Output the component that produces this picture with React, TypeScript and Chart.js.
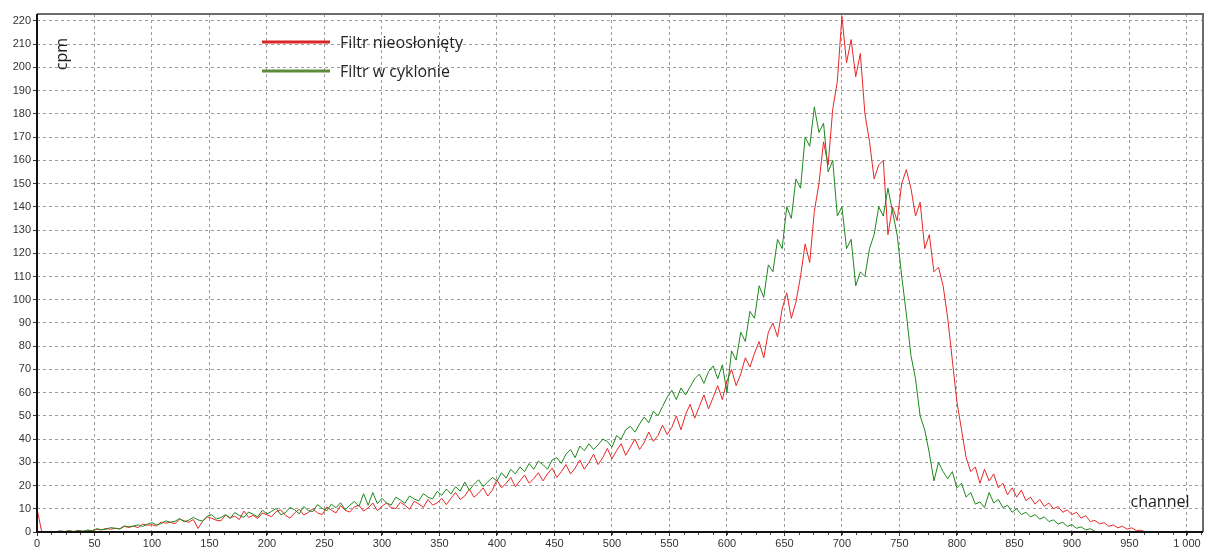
import React, { useEffect, useRef } from 'react';
import { Chart, registerables } from 'chart.js';

Chart.register(...registerables);

// Spectrum samples, one value every STEP channels starting at channel 0
const STEP = 4;

const seriesNames = ['Filtr nieosłonięty', 'Filtr w cyklonie'];
const xAxisTitle = 'channel';
const yAxisTitle = 'cpm';

const xRange = [0, 1014];
const yRange = [0, 223];
const xTickStep = 50;
const yTickStep = 10;

// Filtr nieosłonięty (cpm per channel), channels 0..964
const redCounts = [
  10, 0.3, 0, 0.2, 0, 0.4, 0.2, 0.5, 0.2, 0.6,
  0.3, 0.7, 0.5, 1.2, 0.9, 1.5, 1.2, 1.6, 1.3, 2.4,
  2, 2.5, 1.9, 3.4, 2.9, 3.1, 2.6, 4.3, 3.8, 4.2,
  3.6, 5.5, 4.8, 4.2, 5.4, 1.5, 4.6, 6.5, 5.9, 5,
  4.8, 7.3, 6.2, 6.8, 5.4, 9, 6.3, 7.1, 5.8, 8.2,
  7.4, 6.6, 8.8, 9.5, 7.2, 6, 8.2, 9.8, 7.3, 8.4,
  10, 8.2, 7.5, 10.8, 9.4, 8.2, 11.4, 9.3, 8.6, 10.8,
  11.5, 9, 10.4, 12.5, 9.2, 11, 12.6, 10.4, 10.1, 12.8,
  11.5, 9.8, 13.2, 12.1, 10.6, 14, 11.6, 12.5, 14.5, 11.8,
  14.5, 17, 14, 15.5, 18.5, 15, 16.7, 19, 15.5, 18,
  22.5, 19, 21, 23.5, 19.5, 22, 24.5, 21, 23, 25.5,
  22, 25, 27.5, 23.5, 26, 29, 25, 27.5, 31, 27,
  30, 33.5, 29, 32, 36, 31.5, 35, 38, 33, 36.5,
  40, 35.5, 38.5, 43, 39, 41.5, 46, 42, 45, 50,
  44, 50.5, 55, 49, 54, 59, 53, 58, 63, 57,
  65, 70, 63, 68, 75, 71, 77, 82, 75, 86,
  90, 84, 96, 103, 92, 99, 110, 124, 116, 138,
  150, 168, 158, 182, 194, 222, 202, 212, 196, 206,
  180, 168, 152, 158, 160, 128, 140, 134, 150, 156,
  148, 136, 142, 122, 128, 112, 114, 106, 92, 74,
  56, 44, 32, 26, 28, 21, 27, 22, 25, 19,
  21, 16, 19, 15, 18, 13.5, 15, 12, 14, 11,
  12.5, 10, 11, 8.5, 9.5, 7.5, 8.5, 6, 7, 4.5,
  5, 3.5, 4, 2.5, 3, 1.8, 2.5, 1.2, 1.8, 0.6,
  0.8, 0,
];

// Filtr w cyklonie (cpm per channel), channels 0..924
const greenCounts = [
  0, 0.2, 0, 0.3, 0.1, 0.4, 0.2, 0.5, 0.2, 0.6,
  0.3, 0.8, 0.6, 1.4, 1, 1.2, 1.9, 1.6, 1.4, 2.6,
  2.2, 2.6, 3.1, 2.4, 3.4, 4, 3.1, 3.6, 4.8, 4.2,
  4.6, 5.8, 4.4, 5.1, 6.3, 5.2, 4.7, 6.8, 7.4, 5.6,
  6.2, 7.5, 5.8, 8.4, 7.1, 6.3, 8.6, 7.6, 6.5, 9.4,
  7.8, 8.9, 10.2, 7.4, 8.3, 10.6, 9.6, 7.8, 11, 9.2,
  8.8, 11.8, 10.2, 9.1, 12, 10.4, 12.6, 9.6, 11.5, 13.2,
  11, 16.5, 11.5, 17, 12.2, 14.5, 12.5, 11.6, 15, 13.8,
  12.4, 15.5, 14.2, 13.4, 16.5, 15, 14.2, 17.5, 15.8, 18.5,
  16.4, 19.5, 17.6, 21.5, 18, 20.5, 22.5, 19.6, 21.5, 23.5,
  22, 25.5, 23.2, 27, 25, 28, 26, 29.5, 27, 30.5,
  29, 27, 31, 32, 29.5, 33.5, 35.5, 32, 37, 35,
  38, 35.5, 37.5, 40, 39, 36.5, 41.5, 40, 44, 45.5,
  43, 46.5, 49.5, 47, 52, 50, 54, 58, 61, 57,
  62, 59, 62.5, 66, 68, 64, 69, 71.5, 66, 72,
  60, 78, 74, 86, 82, 95, 92, 106, 101, 115,
  112, 126, 122, 140, 135, 152, 148, 170, 166, 183,
  172, 176, 155, 160, 136, 140, 122, 126, 106, 112,
  110, 122, 128, 140, 136, 148, 138, 128, 110, 94,
  76, 66, 50, 44, 34, 22, 30, 26, 23, 26,
  19, 21, 15, 17, 12, 13, 10.5, 17, 12.5, 14,
  10.5, 11.5, 8.5, 10, 7.5, 8.5, 6.5, 7.5, 5.5, 6.5,
  4.5, 5.2, 3.4, 4.2, 2.4, 3.2, 1.6, 2.2, 0.9, 1.4,
  0.3, 0,
];

const seriesColors = ['rgb(232, 38, 38)', 'rgb(28, 136, 28)'];
const legendColors = ['#dc2626', '#5b8c3c'];

const formatTick = (v: number) =>
  String(v).replace(/\B(?=(\d{3})+(?!\d))/g, ' ');

const toPoints = (values: number[]) =>
  values.map((v, i) => ({ x: i * STEP, y: v }));

// Axis frame, minor ticks, legend and axis titles drawn on top of the plot
const decorations = {
  id: 'decorations',
  afterDraw(chart: any) {
    const { ctx, chartArea } = chart;
    const { left, right, top, bottom } = chartArea;
    const xs = chart.scales.x;
    ctx.save();

    // top and right frame
    ctx.strokeStyle = '#6b6b6b';
    ctx.lineWidth = 2;
    ctx.beginPath();
    ctx.moveTo(left, top);
    ctx.lineTo(right, top);
    ctx.lineTo(right, bottom);
    ctx.stroke();

    // minor ticks under the channel axis
    ctx.strokeStyle = '#444';
    ctx.lineWidth = 1;
    ctx.beginPath();
    for (let c = 0; c <= xRange[1]; c += xTickStep / 4) {
      const px = Math.round(xs.getPixelForValue(c)) + 0.5;
      ctx.moveTo(px, bottom);
      ctx.lineTo(px, bottom + 3);
    }
    ctx.stroke();

    // main axes
    ctx.strokeStyle = '#111';
    ctx.lineWidth = 2;
    ctx.beginPath();
    ctx.moveTo(left, top);
    ctx.lineTo(left, bottom);
    ctx.lineTo(right, bottom);
    ctx.stroke();

    // legend
    const legendY = [42, 71];
    seriesNames.forEach((name, i) => {
      ctx.strokeStyle = legendColors[i];
      ctx.lineWidth = 3;
      ctx.beginPath();
      ctx.moveTo(262, legendY[i]);
      ctx.lineTo(330, legendY[i]);
      ctx.stroke();
      ctx.fillStyle = '#222';
      ctx.font = '16px "Open Sans"';
      ctx.textAlign = 'left';
      ctx.textBaseline = 'middle';
      ctx.fillText(name, 340, legendY[i] + 1);
    });

    // axis titles
    ctx.fillStyle = '#222';
    ctx.font = '16px "Open Sans"';
    ctx.textAlign = 'center';
    ctx.textBaseline = 'middle';
    ctx.fillText(xAxisTitle, 1160, 502);
    ctx.translate(62, 54);
    ctx.rotate(-Math.PI / 2);
    ctx.fillText(yAxisTitle, 0, 0);

    ctx.restore();
  },
};

const tickFont = { family: '"Liberation Sans", Arial, sans-serif', size: 11 };

const gridStyle = {
  color: '#9c9c9c',
  lineWidth: 1,
  drawTicks: true,
  tickLength: 4,
  tickColor: '#333',
  tickWidth: 1,
  tickBorderDash: [],
};

export default function App() {
  const canvasRef = useRef<HTMLCanvasElement | null>(null);

  useEffect(() => {
    document.body.style.margin = '0';
    const canvas = canvasRef.current;
    if (!canvas) return;

    const chart = new Chart(canvas, {
      type: 'line',
      data: {
        datasets: [
          {
            label: seriesNames[0],
            data: toPoints(redCounts),
            borderColor: seriesColors[0],
            borderWidth: 1,
            pointRadius: 0,
            tension: 0,
            order: 2,
          },
          {
            label: seriesNames[1],
            data: toPoints(greenCounts),
            borderColor: seriesColors[1],
            borderWidth: 1,
            pointRadius: 0,
            tension: 0,
            order: 1,
          },
        ],
      },
      options: {
        responsive: false,
        animation: false,
        parsing: false,
        normalized: true,
        layout: { padding: { top: 14, right: 2, left: 0, bottom: 0 } },
        plugins: {
          legend: { display: false },
          tooltip: { enabled: false },
        },
        scales: {
          x: {
            type: 'linear',
            min: xRange[0],
            max: xRange[1],
            afterFit: (s: any) => {
              s.height = 16;
            },
            ticks: {
              stepSize: xTickStep,
              includeBounds: false,
              autoSkip: false,
              maxRotation: 0,
              padding: 1,
              color: '#333',
              font: tickFont,
              callback: (v: any) => formatTick(Number(v)),
            },
            grid: gridStyle,
            border: { display: false, dash: [3, 3] },
          },
          y: {
            type: 'linear',
            min: yRange[0],
            max: yRange[1],
            afterFit: (s: any) => {
              s.width = 37;
            },
            ticks: {
              stepSize: yTickStep,
              includeBounds: false,
              autoSkip: false,
              padding: 2,
              color: '#333',
              font: tickFont,
              callback: (v: any) => formatTick(Number(v)),
            },
            grid: gridStyle,
            border: { display: false, dash: [3, 3] },
          },
        },
      },
      plugins: [decorations],
    });

    return () => chart.destroy();
  }, []);

  return (
    <div style={{ width: 1205, height: 548, position: 'relative', background: '#fff' }}>
      <canvas ref={canvasRef} width={1205} height={548} style={{ display: 'block' }} />
    </div>
  );
}
